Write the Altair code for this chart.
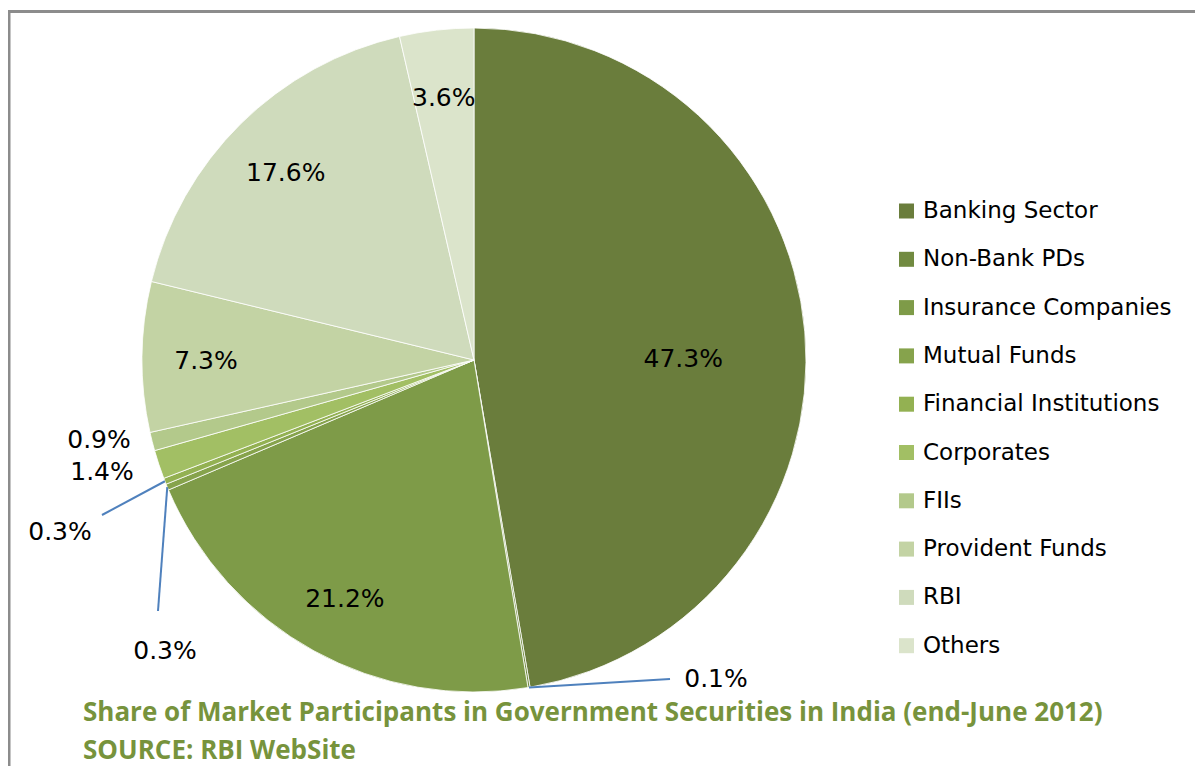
import math
import altair as alt
import pandas as pd

# ---------------- data ----------------
categories = ["Banking Sector", "Non-Bank PDs", "Insurance Companies", "Mutual Funds",
              "Financial Institutions", "Corporates", "FIIs", "Provident Funds", "RBI", "Others"]
shares = [47.3, 0.1, 21.2, 0.3, 0.3, 1.4, 0.9, 7.3, 17.6, 3.6]
colors = ["#6A7D3C", "#718A40", "#7E9B48", "#86A34C", "#93B152",
          "#A2BF64", "#B3C98B", "#C3D3A4", "#CFDBBC", "#DBE4CB"]
title_lines = ["Share of Market Participants in Government Securities in India (end-June 2012)",
               "SOURCE: RBI WebSite"]

# ---------------- layout ----------------
W, H = 932, 704          # plot area; pie centred in it
CX, CY = W / 2, H / 2
R = 332
# outside-label anchors (pixel, like Excel's manual label placement) and leader-line ends
outside_labels = {
    "Non-Bank PDs": {"text": (708, 671), "leader": (662, 671)},
    "Mutual Funds": {"text": (157, 643), "leader": (150, 603)},
    "Financial Institutions": {"text": (52, 524), "leader": (94, 507)},
    "Corporates": {"text": (94, 464), "leader": None},
    "FIIs": {"text": (91, 432), "leader": None},
}
LABEL_FONT = "DejaVu Sans"
LABEL_SIZE = 25

df = pd.DataFrame({"category": categories, "share": shares, "idx": list(range(len(categories)))})
df["label"] = [f"{v:.1f}%" for v in shares]

# annotation table for small slices
cum = 0.0
rows, lead = [], []
for c, s in zip(categories, shares):
    mid = cum + s / 2
    cum += s
    if c in outside_labels:
        spec = outside_labels[c]
        rows.append({"label": f"{s:.1f}%", "tx": spec["text"][0], "ty": spec["text"][1]})
        if spec["leader"] is not None:
            a = 2 * math.pi * mid / 100
            lead.append({"x1": CX + R * math.sin(a), "y1": CY - R * math.cos(a),
                         "x2": spec["leader"][0], "y2": spec["leader"][1]})
ann = pd.DataFrame(rows)
leaders = pd.DataFrame(lead)

base = alt.Chart(df)

pie = base.mark_arc(radius=R, stroke="white", strokeWidth=0.8).encode(
    theta=alt.Theta("share:Q", stack=True, scale=alt.Scale(domain=[0, 100])),
    color=alt.Color(
        "category:N",
        sort=categories,
        scale=alt.Scale(domain=categories, range=colors),
        legend=alt.Legend(
            orient="none", legendX=887, legendY=191.5, title=None,
            symbolType="square", symbolSize=225, symbolStrokeWidth=0,
            labelFont=LABEL_FONT, labelFontSize=23, labelColor="black",
            labelOffset=5, rowPadding=24.3, labelLimit=400,
        ),
    ),
    order=alt.Order("idx:Q"),
)

stacked = base.transform_window(
    cum="sum(share)", sort=[alt.SortField("idx")], frame=[None, 0]
).transform_calculate(mid="datum.cum - datum.share / 2")

big_main = stacked.transform_filter("datum.share > 40").mark_text(
    font=LABEL_FONT, fontSize=LABEL_SIZE, color="black", radius=210, dy=17
).encode(theta=alt.Theta("mid:Q", scale=alt.Scale(domain=[0, 100])), text="label:N")

big_rest = stacked.transform_filter("datum.share >= 2 && datum.share <= 40").mark_text(
    font=LABEL_FONT, fontSize=LABEL_SIZE, color="black", radius=268, dy=4
).encode(theta=alt.Theta("mid:Q", scale=alt.Scale(domain=[0, 100])), text="label:N")

leader_lines = alt.Chart(leaders).mark_rule(color="#4F81BD", strokeWidth=2).encode(
    x=alt.X("x1:Q", scale=None), y=alt.Y("y1:Q", scale=None),
    x2="x2:Q", y2="y2:Q",
)

small_text = alt.Chart(ann).mark_text(
    font=LABEL_FONT, fontSize=LABEL_SIZE, color="black", align="center", baseline="middle"
).encode(x=alt.X("tx:Q", scale=None), y=alt.Y("ty:Q", scale=None), text="label:N")

title_style = dict(font="Open Sans", fontWeight="bold", fontSize=26, color="#77933C",
                   align="left", baseline="alphabetic")
t1 = alt.Chart(pd.DataFrame({"t": [title_lines[0]]})).mark_text(**title_style).encode(
    x=alt.value(75), y=alt.value(713), text="t:N")
t2 = alt.Chart(pd.DataFrame({"t": [title_lines[1]]})).mark_text(**title_style).encode(
    x=alt.value(75), y=alt.value(751), text="t:N")

frame = alt.Chart(pd.DataFrame({"k": [0]})).mark_rect(
    filled=False, stroke="#8C8C8C", strokeWidth=3
).encode(x=alt.value(1), y=alt.value(3.5), x2=alt.value(2000), y2=alt.value(2000))

chart = alt.layer(frame, pie, big_main, big_rest, leader_lines, small_text, t1, t2).properties(
    width=W, height=H,
    padding={"left": 0, "top": 0, "right": 255, "bottom": 54},
    autosize=alt.AutoSizeParams(type="none"),
    background="white",
).configure_view(strokeWidth=0)

chart.save("out.html", embed_options={"renderer": "svg", "actions": False})
